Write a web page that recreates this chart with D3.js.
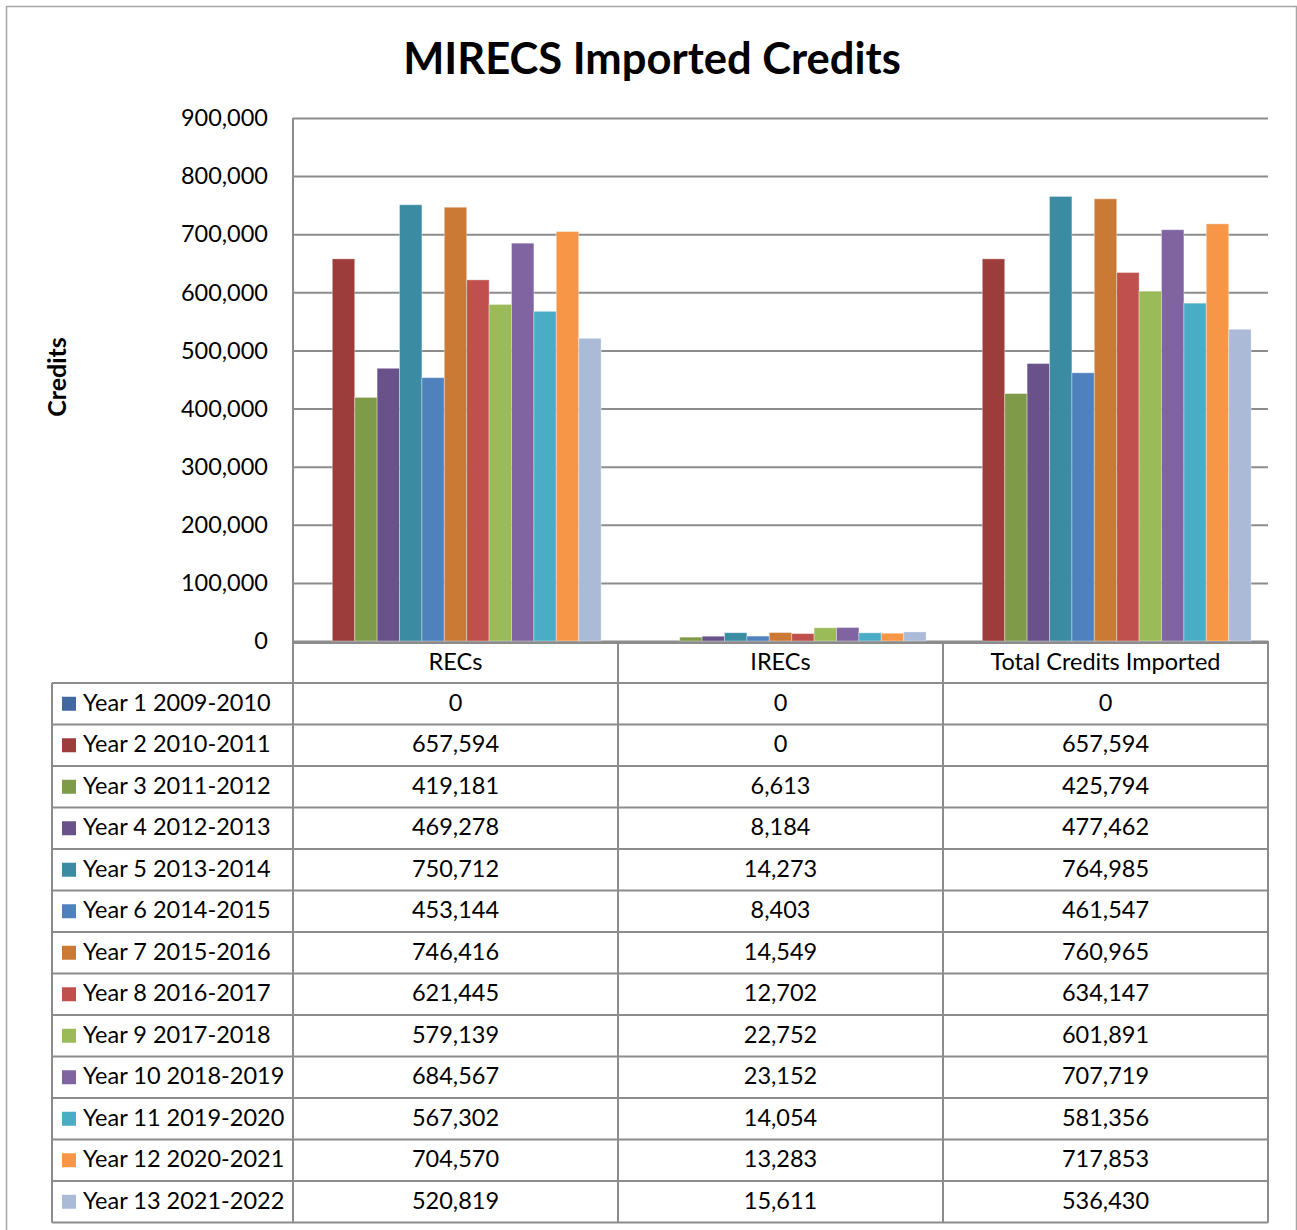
<!DOCTYPE html>
<html>
<head>
<meta charset="utf-8">
<script src="https://cdnjs.cloudflare.com/ajax/libs/d3/7.8.5/d3.min.js"></script>
<style>
  body { margin: 0; background: #fff; }
  svg text { font-family: Lato, "Liberation Sans", sans-serif; fill: #000; }
</style>
</head>
<body>
<div id="chart"></div>
<script>
const categories = ['RECs', 'IRECs', 'Total Credits Imported'];

const seriesNames = [
  'Year 1 2009-2010', 'Year 2 2010-2011', 'Year 3 2011-2012', 'Year 4 2012-2013',
  'Year 5 2013-2014', 'Year 6 2014-2015', 'Year 7 2015-2016', 'Year 8 2016-2017',
  'Year 9 2017-2018', 'Year 10 2018-2019', 'Year 11 2019-2020', 'Year 12 2020-2021',
  'Year 13 2021-2022'
];

const recs = [0, 657594, 419181, 469278, 750712, 453144, 746416, 621445, 579139, 684567, 567302, 704570, 520819];
const irecs = [0, 0, 6613, 8184, 14273, 8403, 14549, 12702, 22752, 23152, 14054, 13283, 15611];
const totals = [0, 657594, 425794, 477462, 764985, 461547, 760965, 634147, 601891, 707719, 581356, 717853, 536430];

const colors = ['#41699f', '#9c3d3c', '#7f9a48', '#695189', '#3b8ca3', '#4f81bd', '#cb7a35',
  '#c0504d', '#9bbb59', '#8064a2', '#4bacc6', '#f79646', '#aabad7'];

const yTicks = [0, 100000, 200000, 300000, 400000, 500000, 600000, 700000, 800000, 900000];

// rows of values per series: [recs, irecs, total]
const rows = seriesNames.map((name, i) => ({ name, color: colors[i], values: [recs[i], irecs[i], totals[i]] }));

const W = 1297, H = 1230;
const plot = { left: 293, right: 1268, top: 118, bottom: 641 };
const table = { left: 52, headTop: 643, top: 683, rowH: 41.5 };
const lineColor = '#8c8c8c';
const fontSize = '23.5px';

const svg = d3.select('#chart').append('svg')
  .attr('width', W)
  .attr('height', H);

// outer frame
svg.append('rect')
  .attr('x', 6.5).attr('y', 6.5)
  .attr('width', 1290).attr('height', 1240)
  .attr('fill', 'none')
  .attr('stroke', '#a6a6a6')
  .attr('stroke-width', 1.5);

// title
svg.append('text')
  .attr('x', 652).attr('y', 74)
  .attr('text-anchor', 'middle')
  .style('font-size', '43.5px')
  .style('font-weight', 'bold')
  .text('MIRECS Imported Credits');

// scales
const x = d3.scaleBand()
  .domain(categories)
  .range([plot.left, plot.right])
  .padding(0);

const xInner = d3.scaleBand()
  .domain(seriesNames)
  .range([0, x.bandwidth()])
  .paddingInner(0)
  .paddingOuter(0.755);

const y = d3.scaleLinear()
  .domain([0, 900000])
  .range([plot.bottom, plot.top]);

// gridlines + tick labels
const yAxis = svg.append('g')
  .attr('transform', `translate(${plot.left},0)`)
  .call(d3.axisRight(y)
    .tickValues(yTicks)
    .tickSize(plot.right - plot.left)
    .tickFormat(''));
yAxis.select('.domain').remove();
yAxis.selectAll('.tick line')
  .attr('stroke', lineColor)
  .attr('stroke-width', 2);

svg.append('g')
  .selectAll('text')
  .data(yTicks)
  .join('text')
  .attr('x', 268)
  .attr('y', d => y(d))
  .attr('dy', '0.35em')
  .attr('text-anchor', 'end')
  .style('font-size', fontSize)
  .text(d => d3.format(',')(d));

// y axis title
svg.append('text')
  .attr('transform', 'translate(66,377) rotate(-90)')
  .attr('text-anchor', 'middle')
  .style('font-size', '25px')
  .style('font-weight', 'bold')
  .text('Credits');

// bars
const groups = svg.append('g')
  .selectAll('g')
  .data(rows)
  .join('g')
  .attr('fill', d => d.color);

groups.selectAll('rect')
  .data(d => d.values.map((v, j) => ({ name: d.name, cat: categories[j], v })))
  .join('rect')
  .attr('x', d => x(d.cat) + xInner(d.name))
  .attr('width', xInner.bandwidth())
  .attr('y', d => y(d.v))
  .attr('height', d => y(0) - y(d.v))
  .attr('stroke', 'rgba(255,255,255,0.35)')
  .attr('stroke-width', 1);

// data table
const tbl = svg.append('g');
const tableBottom = table.top + rows.length * table.rowH;

// header row labels
tbl.selectAll('text.cat')
  .data(categories)
  .join('text')
  .attr('class', 'cat')
  .attr('x', d => x(d) + x.bandwidth() / 2)
  .attr('y', (table.headTop + table.top) / 2)
  .attr('dy', '0.3em')
  .attr('text-anchor', 'middle')
  .style('font-size', fontSize)
  .text(d => d);

// horizontal rules
const hLines = [table.headTop].concat(d3.range(rows.length + 1).map(i => table.top + i * table.rowH));
tbl.selectAll('line.h')
  .data(hLines)
  .join('line')
  .attr('class', 'h')
  .attr('x1', (d, i) => i === 0 ? plot.left : table.left)
  .attr('x2', plot.right)
  .attr('y1', d => d).attr('y2', d => d)
  .attr('stroke', lineColor)
  .attr('stroke-width', 2);

// vertical rules
const vLines = [plot.left].concat(categories.map(c => x(c) + x.bandwidth()));
tbl.selectAll('line.v')
  .data(vLines)
  .join('line')
  .attr('class', 'v')
  .attr('x1', d => d).attr('x2', d => d)
  .attr('y1', (d, i) => i === 0 ? plot.top : plot.bottom)
  .attr('y2', tableBottom)
  .attr('stroke', lineColor)
  .attr('stroke-width', 2);

tbl.append('line')
  .attr('x1', table.left).attr('x2', table.left)
  .attr('y1', table.top).attr('y2', tableBottom)
  .attr('stroke', lineColor)
  .attr('stroke-width', 2);

const rowG = tbl.selectAll('g.row')
  .data(rows)
  .join('g')
  .attr('class', 'row')
  .attr('transform', (d, i) => `translate(0,${table.top + i * table.rowH + table.rowH / 2})`);

rowG.append('rect')
  .attr('x', 62).attr('y', -7)
  .attr('width', 14).attr('height', 14)
  .attr('fill', d => d.color);

rowG.append('text')
  .attr('x', 83)
  .attr('dy', '0.3em')
  .style('font-size', fontSize)
  .text(d => d.name);

rowG.selectAll('text.val')
  .data(d => d.values.map((v, j) => ({ cat: categories[j], v })))
  .join('text')
  .attr('class', 'val')
  .attr('x', d => x(d.cat) + x.bandwidth() / 2)
  .attr('dy', '0.3em')
  .attr('text-anchor', 'middle')
  .style('font-size', fontSize)
  .text(d => d3.format(',')(d.v));
</script>
</body>
</html>
